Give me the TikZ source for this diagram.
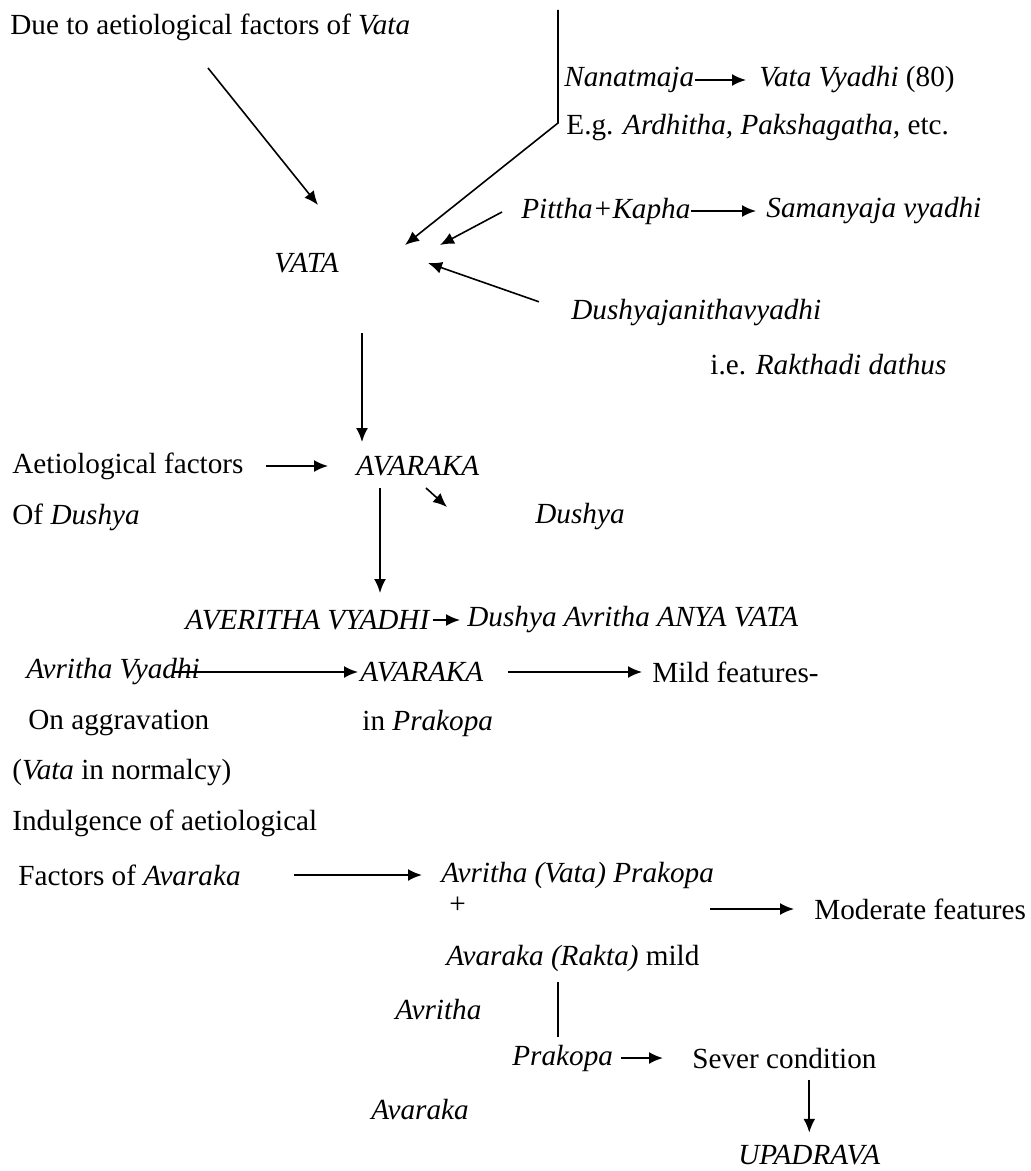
\documentclass[tikz,border=0pt]{standalone}
\usepackage{fontspec}
\setmainfont{Liberation Serif}
\usetikzlibrary{arrows.meta}
\tikzset{
	txt/.style = {anchor=west, inner sep=0pt, font=\fontsize{14.6pt}{17pt}\selectfont},
	itx/.style = {txt, font=\fontsize{14.6pt}{17pt}\selectfont\itshape},
	arr/.style = {line width=1pt, -{Latex[length=7pt,width=6pt]}},
	bar/.style = {line width=0.8pt}
}
\begin{document}
\begin{tikzpicture}[x=0.5pt, y=-0.5pt]
\useasboundingbox (0,0) rectangle (1030,1171);
\node [txt] (duevata) at (10,27) {Due to aetiological factors of \textit{Vata}};
\node [itx] (nanat) at (564,80) {Nanatmaja};
\node [itx] (vvyadhi) at (759,80) {Vata Vyadhi \textup{(80)}};
\node [txt] (eg) at (566,128) {E.g. \textit{Ardhitha, Pakshagatha,} etc.};
\node [itx] (pk) at (521,211) {Pittha+Kapha};
\node [itx] (samanya) at (766,211) {Samanyaja vyadhi};
\node [itx] (vata) at (274,263) {VATA};
\node [itx] (dushyaj) at (571,313) {Dushyajanithavyadhi};
\node [txt] (ie) at (710,365) {i.e. \textit{Rakthadi dathus}};
\node [txt] (aetf) at (12,466) {Aetiological factors};
\node [itx] (avaraka) at (356,466) {AVARAKA};
\node [txt] (ofd) at (12,517) {Of \textit{Dushya}};
\node [itx] (dushya) at (535,517) {Dushya};
\node [itx] (averitha) at (185,620) {AVERITHA VYADHI};
\node [itx] (anya) at (467,620) {Dushya Avritha ANYA VATA};
\node [itx] (avv) at (26,672) {Avritha Vyadhi};
\node [itx] (avaraka2) at (360,672) {AVARAKA};
\node [txt] (mild) at (652,672) {Mild features-};
\node [txt] (onagg) at (28,723) {On aggravation};
\node [txt] (inprak) at (362,723) {in \textit{Prakopa}};
\node [txt] (normal) at (12,773) {(\textit{Vata} in normalcy)};
\node [txt] (indulg) at (12,823) {Indulgence of aetiological};
\node [txt] (factav) at (18,875) {Factors of \textit{Avaraka}};
\node [itx] (avprak) at (441,875) {Avritha (Vata) Prakopa};
\node [txt] (plus) at (449,905) {+};
\node [txt] (moder) at (814,909) {Moderate features};
\node [itx] (avrakta) at (446,958) {Avaraka (Rakta) \textup{mild}};
\node [itx] (avritha) at (395,1010) {Avritha};
\node [itx] (prakopa) at (512,1058) {Prakopa};
\node [txt] (sever) at (692,1058) {Sever condition};
\node [itx] (avaraka3) at (371,1110) {Avaraka};
\node [itx] (upadrava) at (738,1155) {UPADRAVA};

\coordinate (duefoot) at (208,68);
\coordinate (duetip) at (318,205);
\coordinate (trunktop) at (558,10);
\coordinate (trunkbend) at (558,123);
\coordinate (trunktip) at (405,245);
\coordinate (pkfoot) at (502,212);
\coordinate (pktip) at (440,245);
\coordinate (dushtip) at (428,263);
\coordinate (vatafoot) at (362,333);
\coordinate (avarakatip) at (362,442);
\coordinate (avarakafoot) at (380,488);
\coordinate (averithatip) at (380,593);
\coordinate (dushyafoot) at (426,488);
\coordinate (dushyatip) at (447,507);
\coordinate (modfoot) at (710,909);
\coordinate (raktafoot) at (558,982);
\coordinate (raktaend) at (558,1037);

\draw [arr, line width=0.8pt] (duefoot) -- (duetip);
\draw [arr, line width=0.8pt] (trunktop) -- (trunkbend) -- (trunktip);
\draw [arr, line width=0.8pt] (pkfoot) -- (pktip);
\draw [arr, line width=0.8pt, shorten <=17pt] (dushyaj.west) -- (dushtip);
\draw [arr, shorten >=6.5pt] (nanat.east) -- (vvyadhi.west);
\draw [arr, shorten >=5pt] (pk.east) -- (samanya.west);
\draw [arr] (vatafoot) -- (avarakatip);
\draw [arr, shorten <=11pt, shorten >=14pt] (aetf.east) -- (avaraka.west);
\draw [arr, line width=0.8pt] (dushyafoot) -- (dushyatip);
\draw [arr] (avarakafoot) -- (averithatip);
\draw [arr, shorten <=1.5pt, shorten >=3.5pt] (averitha.east) -- (anya.west);
\draw [arr, shorten <=-13pt, shorten >=1pt] (avv.east) -- (avaraka2.west);
\draw [arr, shorten <=12pt, shorten >=5pt] (avaraka2.east) -- (mild.west);
\draw [arr, shorten <=26.5pt, shorten >=9.5pt] (factav.east) -- (avprak.west);
\draw [arr, shorten >=10pt] (modfoot) -- (moder.west);
\draw [bar] (raktafoot) -- (raktaend);
\draw [arr, shorten <=4pt, shorten >=14.5pt] (prakopa.east) -- (sever.west);
\draw [arr, shorten <=5.5pt, shorten >=6pt] (sever.south -| upadrava.north) -- (upadrava.north);
\end{tikzpicture}
\end{document}
